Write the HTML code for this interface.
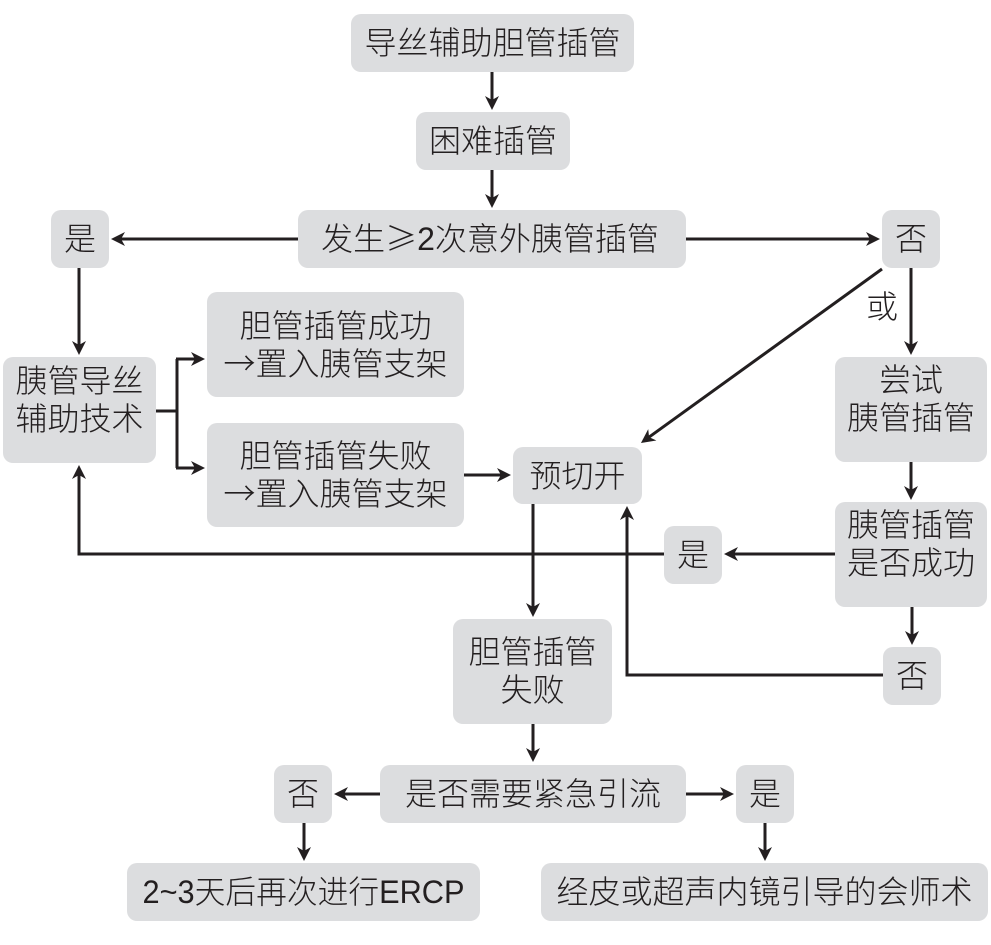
<!DOCTYPE html>
<html>
<head>
<meta charset="utf-8">
<style>
  html, body { margin:0; padding:0; background:#ffffff; }
  svg { display:block; }
  text { font-family: "Liberation Sans", "Noto Sans CJK SC", sans-serif; font-size:32px; font-weight:300; fill:#231f20; text-anchor:middle; }
  .cjk { font-family: "Noto Sans CJK SC", "Liberation Sans", sans-serif; }
</style>
</head>
<body>
<svg width="991" height="945" viewBox="0 0 991 945" xmlns="http://www.w3.org/2000/svg">
  <defs>
    <marker id="ah" markerUnits="userSpaceOnUse" markerWidth="14" markerHeight="14" viewBox="0 0 14 14" refX="11" refY="7" orient="auto">
      <path d="M0,0 L14,7 L0,14 L4,7 Z" fill="#231f20"/>
    </marker>
  </defs>

  <!-- boxes -->
  <g fill="#dcdddf">
    <rect x="351" y="14" width="283" height="58" rx="10"/>
    <rect x="416" y="112" width="154" height="58" rx="10"/>
    <rect x="298" y="210" width="388" height="58" rx="10"/>
    <rect x="51" y="210" width="58" height="58" rx="10"/>
    <rect x="882" y="210" width="58" height="58" rx="10"/>
    <rect x="3" y="357" width="153" height="106" rx="10"/>
    <rect x="207" y="292" width="257" height="105" rx="10"/>
    <rect x="207" y="423" width="257" height="104" rx="10"/>
    <rect x="513" y="447" width="129" height="57" rx="10"/>
    <rect x="835" y="357" width="152" height="105" rx="10"/>
    <rect x="835" y="502" width="152" height="105" rx="10"/>
    <rect x="664" y="526" width="58" height="58" rx="10"/>
    <rect x="883" y="647" width="58" height="58" rx="10"/>
    <rect x="453" y="619" width="159" height="105" rx="10"/>
    <rect x="380" y="765" width="306" height="58" rx="10"/>
    <rect x="274" y="765" width="58" height="58" rx="10"/>
    <rect x="736" y="765" width="58" height="58" rx="10"/>
    <rect x="127" y="863" width="353" height="58" rx="10"/>
    <rect x="541" y="863" width="447" height="58" rx="10"/>
  </g>

  <!-- connectors -->
  <g stroke="#231f20" stroke-width="3" fill="none">
    <line x1="492" y1="72" x2="492" y2="107" marker-end="url(#ah)"/>
    <line x1="492" y1="170" x2="492" y2="205" marker-end="url(#ah)"/>
    <line x1="298" y1="239" x2="114" y2="239" marker-end="url(#ah)"/>
    <line x1="686" y1="239" x2="877" y2="239" marker-end="url(#ah)"/>
    <line x1="79" y1="268" x2="79" y2="352" marker-end="url(#ah)"/>
    <polyline points="156,411 177,411"/>
    <line x1="177" y1="359" x2="177" y2="468"/>
    <line x1="176" y1="359" x2="202" y2="359" marker-end="url(#ah)"/>
    <line x1="176" y1="468" x2="202" y2="468" marker-end="url(#ah)"/>
    <line x1="464" y1="475" x2="508" y2="475" marker-end="url(#ah)"/>
    <line x1="911" y1="268" x2="911" y2="352" marker-end="url(#ah)"/>
    <line x1="882" y1="269" x2="643.4" y2="441.2" marker-end="url(#ah)"/>
    <line x1="911" y1="462" x2="911" y2="497" marker-end="url(#ah)"/>
    <line x1="835" y1="554" x2="727" y2="554" marker-end="url(#ah)"/>
    <polyline points="664,554 79,554 79,468" marker-end="url(#ah)"/>
    <line x1="912" y1="607" x2="912" y2="642" marker-end="url(#ah)"/>
    <polyline points="883,675 627,675 627,509" marker-end="url(#ah)"/>
    <line x1="533" y1="504" x2="533" y2="614" marker-end="url(#ah)"/>
    <line x1="533" y1="724" x2="533" y2="759" marker-end="url(#ah)"/>
    <line x1="380" y1="794" x2="337" y2="794" marker-end="url(#ah)"/>
    <line x1="686" y1="794" x2="731" y2="794" marker-end="url(#ah)"/>
    <line x1="304" y1="823" x2="304" y2="858" marker-end="url(#ah)"/>
    <line x1="765" y1="823" x2="765" y2="858" marker-end="url(#ah)"/>
  </g>

  <!-- labels -->
  <text x="492.5" y="54">导丝辅助胆管插管</text>
  <text x="493" y="152">困难插管</text>
  <text x="490" y="250">发生<tspan class="cjk">≥</tspan>2次意外胰管插管</text>
  <text x="80" y="250">是</text>
  <text x="911" y="250">否</text>
  <text x="882" y="318">或</text>
  <text x="79.5" y="392">胰管导丝</text>
  <text x="79.5" y="430">辅助技术</text>
  <text x="335.5" y="337">胆管插管成功</text>
  <text x="335.5" y="375"><tspan class="cjk">→</tspan>置入胰管支架</text>
  <text x="335.5" y="467">胆管插管失败</text>
  <text x="335.5" y="505"><tspan class="cjk">→</tspan>置入胰管支架</text>
  <text x="577.5" y="487">预切开</text>
  <text x="911" y="391">尝试</text>
  <text x="911" y="429">胰管插管</text>
  <text x="911" y="536">胰管插管</text>
  <text x="911" y="574">是否成功</text>
  <text x="693" y="566">是</text>
  <text x="912" y="687">否</text>
  <text x="532.5" y="663">胆管插管</text>
  <text x="532.5" y="701">失败</text>
  <text x="533" y="805">是否需要紧急引流</text>
  <text x="303" y="805">否</text>
  <text x="765" y="805">是</text>
  <text x="303.5" y="903" textLength="322" lengthAdjust="spacingAndGlyphs">2~3天后再次进行ERCP</text>
  <text x="764.5" y="903">经皮或超声内镜引导的会师术</text>
</svg>
</body>
</html>
